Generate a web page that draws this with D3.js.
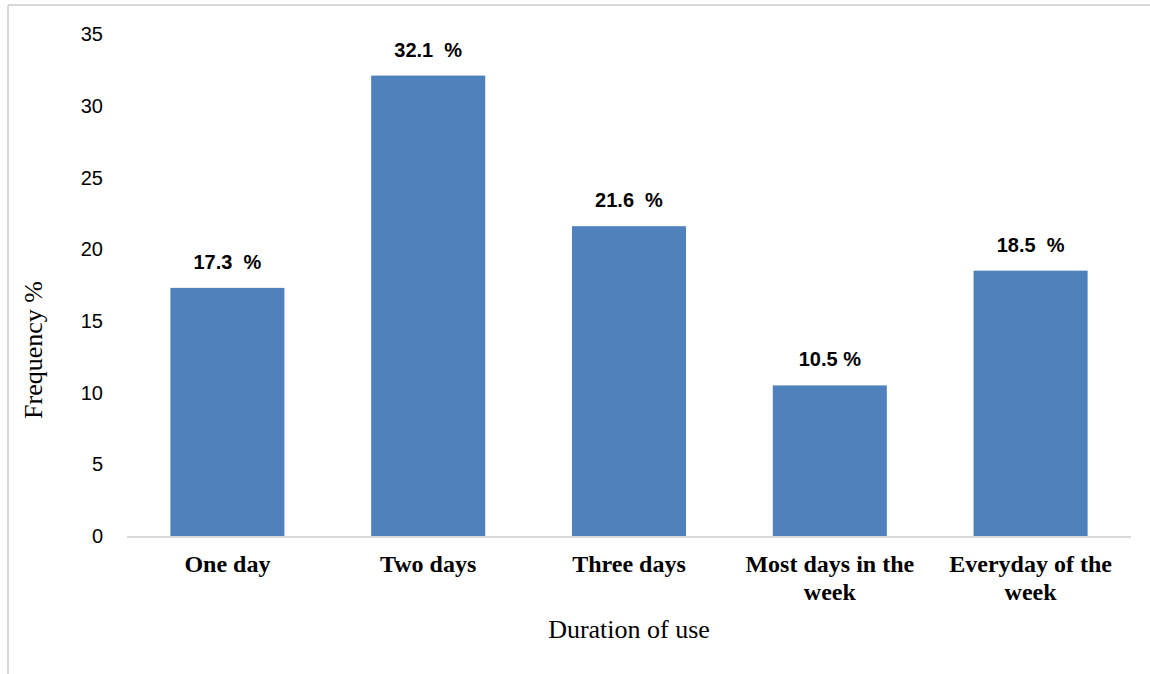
<!DOCTYPE html>
<html>
<head>
<meta charset="utf-8">
<script src="https://cdn.jsdelivr.net/npm/d3@7"></script>
<style>
  body { margin: 0; background: #fff; }
  svg { display: block; }
</style>
</head>
<body>
<script>
// chart data
var categories = ["One day", "Two days", "Three days", "Most days in the week", "Everyday of the week"];
var categoryLines = [["One day"], ["Two days"], ["Three days"], ["Most days in the", "week"], ["Everyday of the", "week"]];
var frequency = [17.3, 32.1, 21.6, 10.5, 18.5];
var valueLabels = ["17.3  %", "32.1  %", "21.6  %", "10.5 %", "18.5  %"];
var yTicks = [0, 5, 10, 15, 20, 25, 30, 35];

var drawChart = function()
{
  var width = 1150;
  var height = 674;
  var left = 127, right = 1131, top = 34, bottom = 536;

  var svg = d3.select("body").append("svg")
              .attr("width", width)
              .attr("height", height);

  // outer frame (only top and left visible in the picture)
  svg.append("line")
     .attr("x1", 8).attr("y1", 5).attr("x2", width).attr("y2", 5)
     .attr("stroke", "#d9d9d9").attr("stroke-width", 2);
  svg.append("line")
     .attr("x1", 8).attr("y1", 5).attr("x2", 8).attr("y2", height)
     .attr("stroke", "#d9d9d9").attr("stroke-width", 2);

  var x = d3.scaleBand()
            .domain(categories)
            .range([left, right])
            .paddingInner(0.432)
            .paddingOuter(0.216);

  var y = d3.scaleLinear()
            .domain([0, 35])
            .range([bottom, top]);

  // y tick labels
  svg.selectAll("text.ytick")
     .data(yTicks)
     .enter()
     .append("text")
     .attr("class", "ytick")
     .text(function(d){ return d; })
     .attr("x", 103)
     .attr("y", function(d){ return y(d); })
     .attr("dy", "0.36em")
     .attr("text-anchor", "end")
     .attr("font-family", "Liberation Sans, Arial, sans-serif")
     .attr("font-size", 20)
     .attr("fill", "#000");

  // bars
  svg.selectAll("rect.bar")
     .data(frequency)
     .enter()
     .append("rect")
     .attr("class", "bar")
     .attr("x", function(d, i){ return x(categories[i]); })
     .attr("y", function(d){ return y(d); })
     .attr("width", x.bandwidth())
     .attr("height", function(d){ return bottom - y(d); })
     .attr("fill", "#4f81bd");

  // baseline
  svg.append("line")
     .attr("x1", left).attr("x2", right)
     .attr("y1", bottom + 1).attr("y2", bottom + 1)
     .attr("stroke", "#d9d9d9").attr("stroke-width", 2);

  // value labels
  svg.selectAll("text.value")
     .data(frequency)
     .enter()
     .append("text")
     .attr("class", "value")
     .text(function(d, i){ return valueLabels[i]; })
     .attr("x", function(d, i){ return x(categories[i]) + x.bandwidth() / 2; })
     .attr("y", function(d){ return y(d) - 19; })
     .attr("text-anchor", "middle")
     .style("white-space", "pre")
     .attr("font-family", "Liberation Sans, Arial, sans-serif")
     .attr("font-weight", "bold")
     .attr("font-size", 20)
     .attr("fill", "#000");

  // category labels
  var cat = svg.selectAll("text.cat")
     .data(categoryLines)
     .enter()
     .append("text")
     .attr("class", "cat")
     .attr("text-anchor", "middle")
     .attr("font-family", "Liberation Serif, Times New Roman, serif")
     .attr("font-weight", "bold")
     .attr("font-size", 24)
     .attr("fill", "#000");
  cat.each(function(lines, i){
    var t = d3.select(this);
    lines.forEach(function(line, j){
      t.append("tspan")
       .attr("x", x(categories[i]) + x.bandwidth() / 2)
       .attr("y", 572 + j * 28)
       .text(line);
    });
  });

  // axis titles
  svg.append("text")
     .text("Duration of use")
     .attr("x", (left + right) / 2)
     .attr("y", 638)
     .attr("text-anchor", "middle")
     .attr("font-family", "Liberation Serif, Times New Roman, serif")
     .attr("font-size", 26)
     .attr("fill", "#000");

  svg.append("text")
     .text("Frequency %")
     .attr("transform", "translate(42,350) rotate(-90)")
     .attr("text-anchor", "middle")
     .attr("font-family", "Liberation Serif, Times New Roman, serif")
     .attr("font-size", 26)
     .attr("fill", "#000");
}

drawChart();
</script>
</body>
</html>
